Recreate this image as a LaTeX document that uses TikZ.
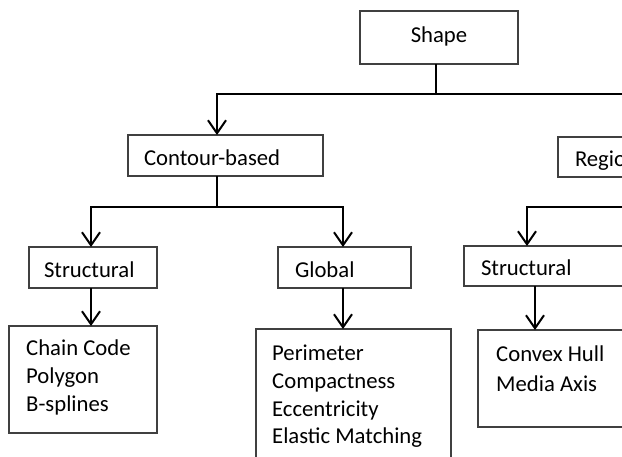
\documentclass[tikz,border=0pt]{standalone}
\usepackage{fontspec}
\setmainfont{Carlito}
\usetikzlibrary{arrows.meta}
\begin{document}
\begin{tikzpicture}[x=1pt,y=-1pt,
  every node/.style={font=\fontsize{22.7}{28}\selectfont, text=black},
  box/.style={draw=black!75, line width=1.1pt, rectangle, anchor=north west, outer sep=0pt},
  head/.style={box, minimum height=41pt, inner ysep=0pt, text height=19pt, text depth=0pt, align=left},
  frame/.style={box, inner sep=0pt},
  items/.style={anchor=north west, inner sep=0pt, align=left},
  conn/.style={line width=2pt, draw=black},
  arr/.style={conn, -{Straight Barb[length=13pt,width=18pt]}}
]
\useasboundingbox (0,0) rectangle (622,456);
\clip (0,0) rectangle (622,456);
\fill[white] (0,0) rectangle (622,456);

% headings
\node[box, minimum width=158pt, minimum height=53pt, inner sep=0pt, text height=9pt, text depth=0pt] (shape) at (360,11) {Shape};
\node[head, text width=163pt, inner xsep=16pt] (contour) at (128,135) {Contour-based};
\node[head, text width=163pt, inner xsep=17pt, minimum height=40pt] (region) at (558,137) {Region-based};
\node[head, text width=98pt, inner xsep=15pt] (cstruct) at (29,247) {Structural};
\node[head, text width=99pt, inner xsep=17pt] (cglobal) at (278,247) {Global};
\node[head, text width=136pt, inner xsep=17pt, minimum height=40pt] (rstruct) at (464,246) {Structural};

% detail frames
\node[frame, minimum width=148pt, minimum height=107pt] (chain) at (9,326) {};
\node[frame, minimum width=195pt, minimum height=140pt] (glist) at (256,329) {};
\node[frame, minimum width=180pt, minimum height=97pt] (rlist) at (478,330) {};

% detail texts
\node[items, font=\fontsize{22.7}{28}\selectfont] (chaintxt) at (26,340) {Chain Code\\Polygon\\B-splines};
\node[items, font=\fontsize{22.7}{27.7}\selectfont] (glisttxt) at (272,345) {Perimeter\\Compactness\\Eccentricity\\Elastic Matching};
\node[items, font=\fontsize{22.7}{30}\selectfont] (rlisttxt) at (496,346) {Convex Hull\\Media Axis};

% junction points and arrow columns
\coordinate (b1) at (436,94);
\coordinate (b2) at (217,207);
\coordinate (b3) at (655,207);
\coordinate (xA) at (217,0);
\coordinate (xR) at (655,0);
\coordinate (xS) at (91,0);
\coordinate (xG) at (343,0);
\coordinate (xE) at (527,0);
\coordinate (xF) at (535,0);

% connectors
\draw[conn] (shape.south -| b1) -- (b1);
\draw[arr] (b1) -| (contour.north -| xA);
\draw[arr] (b1) -| (region.north -| xR);

\draw[conn] (contour.south -| b2) -- (b2);
\draw[arr] (b2) -| (cstruct.north -| xS);
\draw[arr] (b2) -| (cglobal.north -| xG);

\draw[conn] (region.south -| b3) -- (b3);
\draw[arr] (b3) -| (rstruct.north -| xE);

\draw[arr] (cstruct.south -| xS) -- (chain.north -| xS);
\draw[arr] (cglobal.south -| xG) -- (glist.north -| xG);
\draw[arr] (rstruct.south -| xF) -- (rlist.north -| xF);
\end{tikzpicture}
\end{document}
